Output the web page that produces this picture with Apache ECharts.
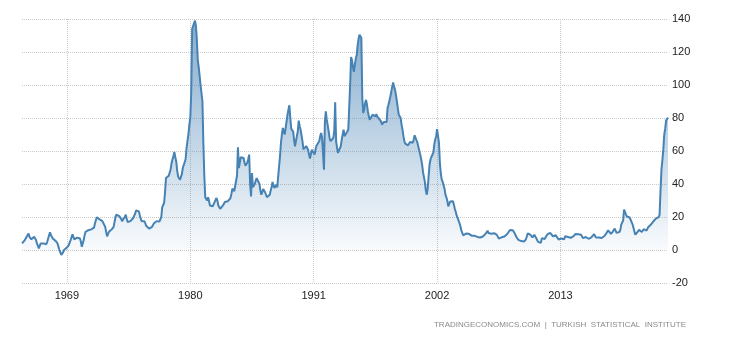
<!DOCTYPE html>
<html>
<head>
<meta charset="utf-8">
<script src="https://cdn.jsdelivr.net/npm/echarts@6/dist/echarts.min.js"></script>
<style>
  html, body { margin: 0; padding: 0; background: #fff; }
  #chart { width: 730px; height: 340px; }
</style>
</head>
<body>
<div id="chart"></div>
<script>
// Turkey inflation rate, monthly, Jan 1965 - Aug 2022
var startYear = 1965;
var labelYears = [1969, 1980, 1991, 2002, 2013];
var yTicks = { min: -20, max: 140, step: 20 };

var cpi = [
  4, 3, 5, 6, 7, 8, 9, 10, 8, 7, 6.5, 7,                       // 1965
  7.5, 8, 8, 6, 4, 3, 1, 2, 4, 4.5, 4, 4,                      // 1966
  4, 3.5, 3.5, 5, 7, 9, 10.7, 9, 8, 7, 6, 6,                   // 1967
  5.5, 5, 4, 2, 0, -1.5, -3, -2, -1.4, 0, 1, 1,                // 1968
  1.5, 2, 3, 4.5, 6, 7, 9.5, 8, 6.5, 6, 7, 7.5,                // 1969
  8, 8.3, 7, 5, 2, 3, 6, 9, 11, 12, 12, 12,                    // 1970
  12, 12, 12.5, 12.5, 12.5, 13.5, 16, 18, 19.8, 19.5, 19, 18.5,// 1971
  18, 18, 17.5, 17, 16.5, 14, 11, 8.3, 9, 11, 11.3, 12,        // 1972
  12.5, 12.5, 14, 17, 20, 21.4, 21, 20.5, 20.5, 20.4, 19, 17.5,// 1973
  16.4, 18, 20, 21.4, 19, 17, 16.4, 17, 17.5, 18, 18.5, 19.4,  // 1974
  20, 22, 24, 25, 24, 23.4, 21, 19, 17.4, 17.5, 17.5, 17.4,    // 1975
  16, 14.5, 13.5, 13.3, 13, 13.3, 13.3, 14, 15, 16, 16.4, 16.8,// 1976
  17.5, 17.8, 17.5, 17.2, 17, 20, 26, 27, 28.5, 35, 43.6, 44,  // 1977
  44.5, 45, 45.7, 49, 52.7, 55, 57, 59.4, 56, 53.7, 48, 44.6,  // 1978
  43.5, 42.6, 42.6, 46, 49.7, 50, 50.7, 55, 61.8, 66, 70, 76,  // 1979
  80, 95, 134, 134, 135, 139, 136, 128, 115, 111, 110, 100,    // 1980
  95, 90, 65, 45, 32, 31, 30, 31.9, 30, 27, 26.5, 26.5,        // 1981
  26.5, 27, 29, 30, 31.5, 30, 27, 26.5, 25, 24.4, 25, 27,      // 1982
  28, 29.1, 29, 29, 29.5, 29.9, 30, 31.5, 34, 37.2, 36, 35.6,  // 1983
  35.6, 35.6, 45, 62.2, 49.7, 53, 56.2, 56, 55.5, 55.8, 53, 51,// 1984
  50.7, 53, 55, 57.8, 40, 32.5, 46.7, 38, 37.6, 40, 42, 43.6,  // 1985
  44, 44.6, 40, 36, 33.5, 35, 37, 37.6, 35, 33.5, 32, 30.9,    // 1986
  31, 33.5, 36, 38, 41.2, 39, 37.6, 38.6, 39.6, 38, 37, 37.6,  // 1987
  57, 65, 70, 74, 72, 70, 74, 78, 82, 85, 87.7, 80,            // 1988
  73.5, 72.9, 71.9, 67, 62.8, 63, 64, 72, 78.4, 75, 72.9, 72.9,// 1989
  66, 61, 59.8, 61, 63, 63.8, 60.8, 58, 55.4, 58, 60.8, 61,    // 1990
  60.8, 57.8, 61, 63.2, 63, 62.8, 66, 69, 70.9, 68, 66.9, 48.7,// 1991
  78, 84, 79, 78, 72, 67.9, 66, 65.9, 66, 67.9, 72, 89.5,      // 1992
  65.9, 62, 58.8, 59, 59.8, 63, 66.9, 70, 72.9, 69, 67.9, 70.9,// 1993
  71, 72.9, 74, 100, 117, 115, 111, 108, 112, 116, 118, 124,   // 1994
  128, 130.5, 129.5, 128.5, 92, 83, 85, 89, 91, 88, 84, 81,    // 1995
  79, 78, 80, 82, 82.4, 82, 81, 82.4, 81, 80, 79.5, 79.6,      // 1996
  78, 76, 76.5, 77.6, 77.6, 77.6, 77.6, 86.1, 88, 90.5, 93, 96,// 1997
  99, 101.6, 99, 97.2, 94, 90.1, 86, 82, 81, 80, 76, 72.9,     // 1998
  69, 65.9, 64.5, 63.8, 63.5, 63.4, 64, 65.5, 65, 64.9, 65, 67,// 1999
  69.5, 69, 68.9, 65, 63.8, 60, 57.8, 55, 51.7, 47, 44, 41,    // 2000
  35.9, 33.5, 37.5, 45, 52, 55, 56.5, 57.5, 59, 64, 67, 69,    // 2001
  73.2, 73.1, 65.1, 52.7, 46.2, 42.6, 41.3, 40.2, 37, 33.4, 31.8, 29.7, // 2002
  26.4, 27, 29.4, 30.3, 29.5, 29.6, 27.4, 24.9, 23, 20.8, 19.3, 18.4,   // 2003
  16.2, 14.3, 11.8, 10.2, 8.9, 8.9, 9.6, 10, 9, 9.9, 9.8, 9.4,          // 2004
  9.2, 8.7, 7.9, 8.2, 8.7, 8.9, 7.8, 7.9, 8, 7.5, 7.6, 7.7,             // 2005
  7.9, 8.2, 8.2, 8.8, 9.9, 10.1, 11.7, 10.3, 10.6, 9.9, 9.9, 9.7,       // 2006
  9.9, 10.2, 10.9, 10.7, 9.2, 8.6, 6.9, 7.4, 7.1, 7.7, 8.4, 8.4,        // 2007
  8.2, 9.1, 9.2, 9.7, 10.7, 10.6, 12.1, 11.8, 11.1, 12, 10.8, 10.1,     // 2008
  9.5, 7.7, 7.9, 6.1, 5.2, 5.7, 5.4, 5.3, 5.3, 5.1, 5.5, 6.5,           // 2009
  8.2, 10.1, 9.6, 10.2, 9.1, 8.4, 7.6, 8.3, 9.2, 8.6, 7.3, 6.4,         // 2010
  4.9, 4.2, 4, 4.3, 7.2, 6.2, 6.3, 6.7, 6.2, 7.7, 9.5, 10.5,            // 2011
  10.6, 10.4, 10.4, 11.1, 8.3, 8.9, 9.1, 8.9, 9.2, 7.8, 6.4, 6.2,       // 2012
  7.3, 7, 7.3, 6.1, 6.5, 8.3, 8.9, 8.2, 7.9, 7.7, 7.3, 7.4,             // 2013
  7.8, 7.9, 8.4, 9.4, 9.7, 9.2, 9.3, 9.5, 8.9, 9, 9.2, 8.2,             // 2014
  7.2, 7.6, 7.6, 7.9, 8.1, 7.2, 6.8, 7.1, 8, 7.6, 8.1, 8.8,             // 2015
  9.6, 8.8, 7.5, 6.6, 6.6, 7.6, 8.8, 8.1, 7.3, 7.2, 7, 8.5,             // 2016
  9.2, 10.1, 11.3, 11.9, 11.7, 10.9, 9.8, 10.7, 11.2, 11.9, 13, 11.9,   // 2017
  10.4, 10.3, 10.2, 10.9, 12.2, 15.4, 15.9, 17.9, 24.5, 25.2, 21.6, 20.3, // 2018
  20.4, 19.7, 19.7, 19.5, 18.7, 15.7, 16.7, 15, 9.3, 8.6, 10.6, 11.8,   // 2019
  12.2, 12.4, 11.9, 10.9, 11.4, 12.6, 11.8, 11.8, 11.8, 11.9, 14, 14.6, // 2020
  15, 15.6, 16.2, 17.1, 16.6, 17.5, 19, 19.3, 19.6, 19.9, 21.3, 36.1,   // 2021
  48.7, 54.4, 61.1, 70, 73.5, 78.6, 79.6, 80.2                          // 2022
];

var months = [];
for (var i = 0; i < cpi.length; i++) {
  var y = startYear + Math.floor(i / 12);
  var m = i % 12 + 1;
  months.push(y + '-' + (m < 10 ? '0' + m : m));
}

function isLabelMonth(index, value) {
  var parts = String(value).split('-');
  return parts[1] === '01' && labelYears.indexOf(+parts[0]) >= 0;
}

var chart = echarts.init(document.getElementById('chart'));
chart.setOption({
  animation: false,
  grid: { left: 22, right: 62, top: 19, bottom: 57 },
  xAxis: {
    type: 'category',
    data: months,
    boundaryGap: false,
    axisLine: { show: false },
    axisTick: { show: false },
    axisLabel: {
      interval: isLabelMonth,
      formatter: function (v) { return v.slice(0, 4); },
      color: '#222',
      fontFamily: 'Liberation Sans',
      fontSize: 11,
      margin: 7
    },
    splitLine: {
      show: true,
      interval: isLabelMonth,
      lineStyle: { color: '#c8c8c8', type: 'dotted', width: 1 }
    }
  },
  yAxis: {
    type: 'value',
    position: 'right',
    min: yTicks.min,
    max: yTicks.max,
    interval: yTicks.step,
    axisLine: { show: false },
    axisTick: { show: false },
    axisLabel: {
      color: '#222',
      fontFamily: 'Liberation Sans',
      fontSize: 11,
      margin: 4
    },
    splitLine: {
      lineStyle: { color: '#c8c8c8', type: 'dotted', width: 1 }
    }
  },
  series: [{
    type: 'line',
    data: cpi,
    showSymbol: false,
    lineStyle: { color: '#4682b4', width: 2 },
    areaStyle: {
      color: new echarts.graphic.LinearGradient(0, 0, 0, 1, [
        { offset: 0, color: 'rgba(70,130,180,0.95)' },
        { offset: 1, color: 'rgba(70,130,180,0.03)' }
      ])
    }
  }],
  graphic: [{
    type: 'text',
    right: 44,
    top: 321,
    style: {
      text: 'TRADINGECONOMICS.COM  |  TURKISH  STATISTICAL  INSTITUTE',
      fill: '#8a8a8a',
      font: '8px "Liberation Sans"'
    }
  }]
});
</script>
</body>
</html>
